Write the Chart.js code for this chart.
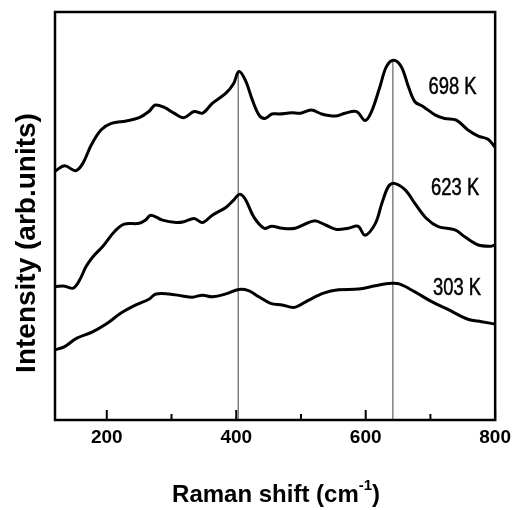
<!DOCTYPE html>
<html>
<head>
<meta charset="utf-8">
<title>Raman spectra</title>
<script src="https://cdn.jsdelivr.net/npm/chart.js@4.4.1/dist/chart.umd.min.js"></script>
<style>
  html, body { margin: 0; padding: 0; background: #fff; }
  #wrap { width: 517px; height: 510px; }
</style>
</head>
<body>
<div id="wrap"><canvas id="ramanChart" width="517" height="510"></canvas></div>
<script>
/* ================= Data ================= */
const shift698 = [120,135,152,163,176,191,207,230,250,265,275,289,304,319,335,348,363,384,396,404,414,425,435,444,455,466,486,499,516,532,553,568,586,599,609,622,632,643,655,666,676,689,707,722,740,758,774,789,800];
const int698 = [61.0,62.3,61.1,62.9,67.4,71.1,72.7,73.3,74.1,75.6,77.2,76.6,75.2,74.1,75.6,75.2,77.6,80.1,82.5,85.4,83.3,78.4,74.8,73.9,75.0,75.0,75.3,75.2,76.0,75.0,74.5,75.2,75.6,73.4,75.6,81.7,86.6,88.2,86.6,81.7,78.0,76.8,74.8,73.9,73.5,71.1,69.6,68.8,66.8];

const shift623 = [120,135,148,158,168,178,194,212,227,250,260,268,286,307,319,335,348,363,384,396,405,414,427,443,455,471,491,520,538,555,573,588,599,615,625,635,644,661,676,694,712,738,753,774,794,800];
const int623 = [32.7,32.8,32.3,34.3,37.6,39.9,42.6,46.2,48.0,48.2,49.0,50.2,49.0,48.4,48.6,49.4,48.4,50.2,52.1,53.9,55.3,54.1,49.8,47.0,47.5,47.0,47.0,48.8,47.8,46.7,47.0,47.5,45.3,48.2,53.1,57.2,58.0,56.4,53.1,49.4,47.4,46.6,44.9,42.9,42.6,42.9];

const shift303 = [120,135,153,178,199,222,245,265,276,296,317,332,348,363,384,404,419,435,453,471,490,512,535,558,589,615,640,653,676,702,727,758,779,800];
const int303 = [17.2,18.0,20.0,21.6,23.5,26.2,28.2,29.6,30.9,30.9,30.4,30.1,30.6,30.2,30.9,32.0,31.7,30.2,28.6,28.2,27.6,29.4,31.1,31.9,32.1,32.9,33.5,33.3,31.4,29.0,27.1,24.7,24.1,23.5];

const seriesLabels = ['698 K', '623 K', '303 K'];

// thin guide lines through the two main modes (drawn up to the 698 K peak)
const markerShifts = [403, 642];
const markerTops = [85.6, 88.2];

// x axis
const xMin = 120;
const xMax = 800;
const xTickValues = [200, 300, 400, 500, 600, 700, 800];
const xLabelValues = [200, 400, 600, 800];

/* ================= Helpers ================= */
function toPoints(xs, ys) {
  return xs.map((x, i) => ({ x: x, y: ys[i] }));
}

const FONT = '"Liberation Sans", Arial, Helvetica, sans-serif';

// where the temperature labels sit (data coords)
const labelAnchors = [
  { x: 697, y: 79.9 },
  { x: 701, y: 55.1 },
  { x: 704, y: 30.6 }
];

/* ================= Plugin: frame, inner ticks, titles, labels ================= */
const decorPlugin = {
  id: 'decor',
  afterDraw(chart) {
    const { ctx, chartArea: a } = chart;
    const xs = chart.scales.x;
    const ys = chart.scales.y;

    ctx.save();

    // inward ticks
    ctx.strokeStyle = '#000';
    ctx.lineWidth = 2;
    xs.ticks.forEach(t => {
      const px = xs.getPixelForValue(t.value);
      const len = xLabelValues.includes(t.value) ? 10 : 6;
      ctx.beginPath();
      ctx.moveTo(px, a.bottom);
      ctx.lineTo(px, a.bottom - len);
      ctx.stroke();
    });

    // frame
    ctx.lineWidth = 2.5;
    ctx.strokeRect(a.left, a.top, a.right - a.left, a.bottom - a.top);

    // temperature labels (condensed face, slightly heavier)
    ctx.fillStyle = '#000';
    ctx.font = '23px ' + FONT;
    ctx.textAlign = 'left';
    ctx.textBaseline = 'alphabetic';
    ctx.lineWidth = 0.5;
    seriesLabels.forEach((txt, i) => {
      const px = xs.getPixelForValue(labelAnchors[i].x);
      const py = ys.getPixelForValue(labelAnchors[i].y);
      ctx.save();
      ctx.translate(px, py);
      ctx.scale(0.8, 1);
      ctx.fillText(txt, 0, 0);
      ctx.strokeText(txt, 0, 0);
      ctx.restore();
    });

    // x title with superscript
    const cx = (a.left + a.right) / 2 + 1;
    const base = 502;
    const main = 'Raman shift (cm';
    const sup = '-1';
    const close = ')';
    ctx.font = 'bold 24px ' + FONT;
    const wMain = ctx.measureText(main).width;
    const wClose = ctx.measureText(close).width;
    ctx.font = 'bold 15px ' + FONT;
    const wSup = ctx.measureText(sup).width;
    let sx = cx - (wMain + wSup + wClose) / 2;
    ctx.font = 'bold 24px ' + FONT;
    ctx.fillText(main, sx, base);
    sx += wMain;
    ctx.font = 'bold 15px ' + FONT;
    ctx.fillText(sup, sx, base - 12);
    sx += wSup;
    ctx.font = 'bold 24px ' + FONT;
    ctx.fillText(close, sx, base);

    // y title
    ctx.save();
    ctx.translate(35, 243);
    ctx.rotate(-Math.PI / 2);
    ctx.textAlign = 'center';
    ctx.font = 'bold 28px ' + FONT;
    ctx.fillText('Intensity (arb.units)', 0, 0);
    ctx.restore();

    ctx.restore();
  }
};

/* ================= Chart ================= */
document.addEventListener('DOMContentLoaded', () => {
  const curve = (label, xs, ys) => ({
    label: label,
    data: toPoints(xs, ys),
    borderColor: '#000',
    borderWidth: 3,
    pointRadius: 0,
    tension: 0.35,
    fill: false,
    order: 1
  });

  const markers = markerShifts.map((s, i) => ({
    label: 'marker ' + s,
    data: [{ x: s, y: 0 }, { x: s, y: markerTops[i] }],
    borderColor: '#444',
    borderWidth: 1,
    pointRadius: 0,
    fill: false,
    order: 5
  }));

  new Chart(document.getElementById('ramanChart'), {
    type: 'line',
    data: {
      datasets: [
        curve(seriesLabels[0], shift698, int698),
        curve(seriesLabels[1], shift623, int623),
        curve(seriesLabels[2], shift303, int303),
        ...markers
      ]
    },
    options: {
      responsive: false,
      animation: false,
      events: [],
      layout: { padding: { left: 55, right: 20, top: 12, bottom: 0 } },
      plugins: {
        legend: { display: false },
        tooltip: { enabled: false }
      },
      scales: {
        x: {
          type: 'linear',
          min: xMin,
          max: xMax,
          afterBuildTicks: scale => {
            scale.ticks = xTickValues.map(v => ({ value: v }));
          },
          afterFit: scale => { scale.height = 90; },
          grid: { display: false, drawTicks: false },
          border: { display: false },
          ticks: {
            padding: 6,
            maxRotation: 0,
            autoSkip: false,
            color: '#000',
            font: { family: FONT, size: 19, weight: 'bold' },
            callback: v => (xLabelValues.includes(v) ? String(v) : '')
          }
        },
        y: {
          type: 'linear',
          min: 0,
          max: 100,
          display: false
        }
      }
    },
    plugins: [decorPlugin]
  });
});
</script>
</body>
</html>
